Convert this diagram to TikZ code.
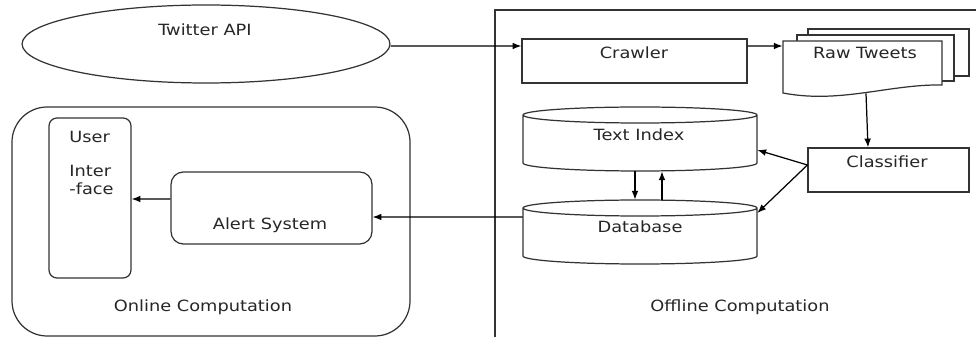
\documentclass[tikz,border=0pt]{standalone}
\usepackage{fontspec}
\setmainfont{DejaVu Sans}[FakeStretch=1.15]
\usetikzlibrary{arrows.meta,shapes.geometric}
\tikzset{
  ln/.style={line width=0.7pt, draw=black!80},
  blk/.style={ln, inner sep=0pt},
  arr/.style={line width=0.7pt, -{Latex[length=5pt,width=3.8pt]}},
  txt/.style={text=black!85, inner sep=0pt, text depth=0pt},
}
\begin{document}
\begin{tikzpicture}[x=0.02cm,y=-0.02cm,font=\fontsize{8.8}{10.2}\selectfont]
\useasboundingbox (0,0) rectangle (976,337);
% offline part, runs off the page at right and bottom
\draw[ln] (495,345) |- (985,10);
% online part
\draw[ln, rounded corners=20pt] (12,107) rectangle (410,336);

\node[blk, ellipse, minimum width=7.36cm, minimum height=1.56cm] (api) at (206,44) {};
\node[blk, minimum width=4.5cm, minimum height=0.88cm] (crawler) at (634.5,61) {};
\node[blk, minimum width=3.22cm, minimum height=0.88cm] (classifier) at (888.5,170) {};
\node[blk, rounded corners=4.5pt, minimum width=1.64cm, minimum height=3.2cm] (ui) at (90,198) {};
\node[blk, rounded corners=7pt, minimum width=4.02cm, minimum height=1.44cm] (alert) at (271.5,208) {};

% raw tweets: stack of three pages
\draw[ln, fill=white] (808,29) rectangle (969,76);
\draw[ln, fill=white] (797,35) rectangle (954,81);
\draw[ln, fill=white] (783,41) -- (942,41) -- (942,85) .. controls (890,84) and (840,104) .. (783,93) -- cycle;
\node[minimum width=3.18cm, minimum height=1.04cm] (raw) at (862.5,67) {};

% the two stores
\foreach \n/\y in {tindex/107, db/200}{
  \draw[ln] (523,\y+8) -- (523,\y+56) arc[start angle=180, end angle=360, x radius=2.34cm, y radius=0.16cm]
    -- (757,\y+8) arc[start angle=0, end angle=360, x radius=2.34cm, y radius=0.16cm];
  \node[minimum width=4.68cm, minimum height=1.28cm] (\n) at (640,\y+32) {};
}

\node[txt] (api-t) at (205,30) {Twitter API};
\node[txt] (crawler-t) at (634,53) {Crawler};
\node[txt] (raw-t) at (865,53) {Raw Tweets};
\node[txt] (tindex-t) at (639,135) {Text Index};
\node[txt] (db-t) at (640,227) {Database};
\node[txt] (classifier-t) at (887,162) {Classifier};
\node[txt, align=left, anchor=north west] (ui-t) at (69,131) {User\\[9.1pt]Inter\\-face};
\node[txt] (alert-t) at (270,224) {Alert System};
\node[txt] (online-t) at (203,306) {Online Computation};
\node[txt] (offline-t) at (740,306) {Offline Computation};

\draw[arr] ([yshift=-0.04cm]api.east) -- ([yshift=0.3cm]crawler.west);
\draw[arr] ([yshift=0.3cm]crawler.east) -- ([yshift=0.42cm]raw.west);
\draw[arr] ([xshift=0.07cm]raw.south) -- ([xshift=-0.41cm]classifier.north);
\draw[arr] ([yshift=0.1cm]classifier.west) -- ([yshift=-0.22cm]tindex.east);
\draw[arr] ([yshift=0.1cm]classifier.west) -- ([yshift=0.38cm]db.east);
\draw[arr] ([xshift=-0.1cm]tindex.south) -- ([xshift=-0.1cm]db.north);
\draw[arr] ([xshift=0.44cm]db.north) -- ([xshift=0.44cm]tindex.south);
\draw[arr] ([yshift=0.3cm]db.west) -- ([yshift=-0.18cm]alert.east);
\draw[arr] ([yshift=0.18cm]alert.west) -- ([yshift=-0.02cm]ui.east);
\end{tikzpicture}
\end{document}
